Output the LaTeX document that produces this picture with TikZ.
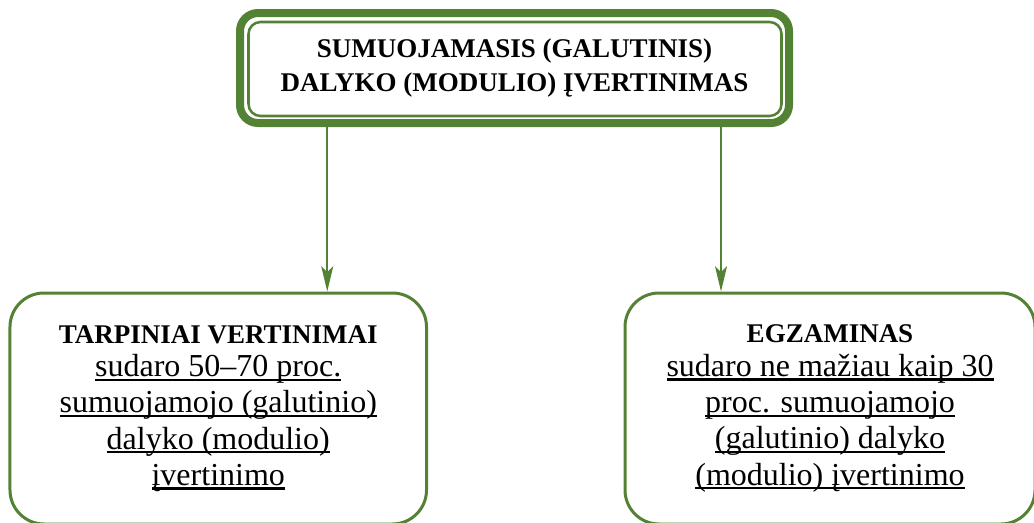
\documentclass[tikz,border=0pt]{standalone}
\usepackage{fontspec}
\setmainfont{Liberation Serif}
\usepackage{tikz}
\usetikzlibrary{arrows.meta}
\definecolor{darkGreen}{RGB}{84,130,53}
\newsavebox{\undlbox}
\newcommand{\undl}[1]{\sbox{\undlbox}{#1}\rlap{\rule[-3.1pt]{\wd\undlbox}{1.6pt}}\usebox{\undlbox}}

\begin{document}
\begin{tikzpicture}[x=0.75pt, y=-0.75pt,
  frame/.style={draw=darkGreen, line width=6pt, rounded corners=13.5pt, minimum width=411.75pt, minimum height=82.5pt, align=center, font=\bfseries\fontsize{20.25}{25.5}\selectfont},
  partbox/.style={draw=darkGreen, line width=2.25pt, rounded corners=25.5pt, minimum height=173.25pt, align=center, font=\fontsize{24}{27.2}\selectfont},
  link/.style={darkGreen, line width=1.8pt, -{Stealth[length=19pt, width=9pt, inset=4.5pt]}}]
 	\useasboundingbox (0,0) rectangle (1034,522);
 	\clip (0,0) rectangle (1034,522);
 	\node[frame] (total) at (514.5,68) {SUMUOJAMASIS (GALUTINIS)\\DALYKO (MODULIO) ĮVERTINIMAS};
 	\draw[darkGreen, line width=1.9pt, rounded corners=9pt] ([shift={(12.5,13)}]total.north west) rectangle ([shift={(-11.5,-11)}]total.south east);
 	\node[partbox, minimum width=312.4pt] (tarp) at (218.25,408.5) {{\bfseries\fontsize{20.25}{25.5}\selectfont TARPINIAI VERTINIMAI}\\[-2pt]\undl{sudaro 50–70 proc.}\\\undl{sumuojamojo (galutinio)}\\\undl{dalyko (modulio)}\\\undl{įvertinimo}};
 	\node[partbox, minimum width=307.5pt] (egz) at (830,408.5) {{\bfseries\fontsize{20.25}{25.5}\selectfont EGZAMINAS}\\[-2pt]\undl{sudaro ne mažiau kaip 30}\\\undl{proc. sumuojamojo}\\\undl{(galutinio) dalyko}\\\undl{(modulio) įvertinimo}};
 	\coordinate (ltip) at ([shift={(109,0)}]tarp.north);
 	\coordinate (rtip) at ([shift={(-109,0)}]egz.north);
 	\draw[link] (ltip |- total.south) -- (ltip);
 	\draw[link] (rtip |- total.south) -- (rtip);
\end{tikzpicture}
\end{document}
